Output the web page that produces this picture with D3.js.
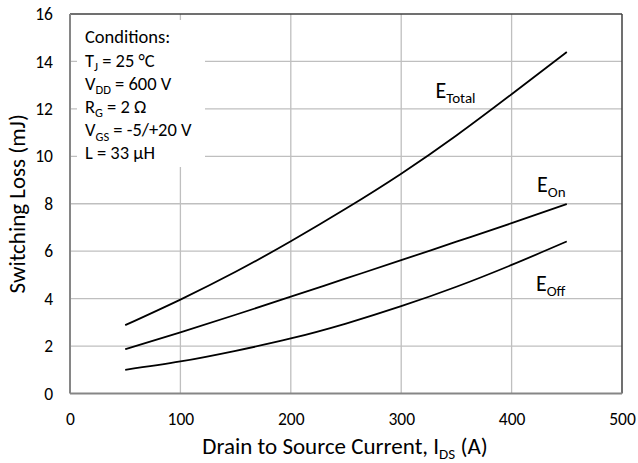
<!DOCTYPE html>
<html>
<head>
<meta charset="utf-8">
<script src="https://cdn.jsdelivr.net/npm/d3@7"></script>
<style>
  body { margin: 0; background: #fff; }
  svg { font-family: Carlito, Calibri, Lato, sans-serif; }
</style>
</head>
<body>
<svg id="chart" width="638" height="463"></svg>
<script>
// Data (drain current in A, loss in mJ)
const current = [50, 100, 150, 200, 250, 300, 350, 400, 450];
const eTotal = [2.88, 3.96, 5.13, 6.42, 7.8, 9.27, 10.88, 12.62, 14.4];
const eOn = [1.87, 2.58, 3.32, 4.08, 4.85, 5.62, 6.4, 7.18, 7.99];
const eOff = [1.0, 1.35, 1.8, 2.32, 2.95, 3.68, 4.5, 5.42, 6.41];
const xTicks = [0, 100, 200, 300, 400, 500];
const yTicks = [0, 2, 4, 6, 8, 10, 12, 14, 16];

// label anchor in data units (left edge of "E", baseline)
const series = [
    { name: "Total", values: eTotal, lx: 331, ly: 12.45 },
    { name: "On", values: eOn, lx: 423, ly: 8.5 },
    { name: "Off", values: eOff, lx: 422, ly: 4.33 }
];

const margin = { top: 14, right: 16, bottom: 69.5, left: 70 };
const width = 638, height = 463;
const innerWidth = width - margin.left - margin.right;
const innerHeight = height - margin.top - margin.bottom;

const svg = d3.select("#chart");
const g = svg.append("g").attr("transform", `translate(${margin.left},${margin.top})`);

const x = d3.scaleLinear().domain([0, 500]).range([0, innerWidth]);
const y = d3.scaleLinear().domain([0, 16]).range([innerHeight, 0]);

// Grid
g.append("g").selectAll("line").data(xTicks.slice(1, -1)).enter().append("line")
    .attr("x1", d => x(d)).attr("x2", d => x(d)).attr("y1", 0).attr("y2", innerHeight)
    .attr("stroke", "#bfbfbf").attr("stroke-width", 1.3);
g.append("g").selectAll("line").data(yTicks.slice(1, -1)).enter().append("line")
    .attr("y1", d => y(d)).attr("y2", d => y(d)).attr("x1", 0).attr("x2", innerWidth)
    .attr("stroke", "#bfbfbf").attr("stroke-width", 1.3);

// Conditions box (covers grid)
g.append("rect").attr("x", 7).attr("y", 6).attr("width", 128).attr("height", 147).attr("fill", "#fff");

// Frame: top/right dark, left/bottom gray axes
g.append("line").attr("x1", 0).attr("x2", innerWidth).attr("y1", 0).attr("y2", 0)
    .attr("stroke", "#404040").attr("stroke-width", 1.5);
g.append("line").attr("x1", innerWidth).attr("x2", innerWidth).attr("y1", 0).attr("y2", innerHeight)
    .attr("stroke", "#404040").attr("stroke-width", 1.5);
g.append("line").attr("x1", 0).attr("x2", 0).attr("y1", 0).attr("y2", innerHeight)
    .attr("stroke", "#868686").attr("stroke-width", 2);
g.append("line").attr("x1", 0).attr("x2", innerWidth).attr("y1", innerHeight).attr("y2", innerHeight)
    .attr("stroke", "#868686").attr("stroke-width", 2);

// Axes tick labels
const xAxis = g.append("g").attr("transform", `translate(0,${innerHeight})`)
    .call(d3.axisBottom(x).tickValues(xTicks).tickSize(0).tickPadding(19));
const yAxis = g.append("g")
    .call(d3.axisLeft(y).tickValues(yTicks).tickSize(0).tickPadding(17));
[xAxis, yAxis].forEach(a => {
    a.select(".domain").remove();
    a.selectAll("text").attr("font-size", 17.5).attr("fill", "#000")
        .attr("font-family", "Carlito, Calibri, Lato, sans-serif");
});

// Curves
const line = d3.line()
    .x((d, i) => x(current[i]))
    .y(d => y(d))
    .curve(d3.curveNatural);

series.forEach(s => {
    g.append("path").attr("d", line(s.values))
        .attr("fill", "none").attr("stroke", "#000").attr("stroke-width", 1.8);
});

// Curve labels
series.forEach(s => {
    const t = g.append("text").attr("font-size", 22)
        .attr("x", x(s.lx)).attr("y", y(s.ly));
    t.append("tspan").text("E");
    t.append("tspan").attr("font-size", 15).attr("dy", 5).text(s.name);
});

// Conditions text
const conds = [
    { main: "Conditions:" },
    { main: "T", sub: "J", rest: " = 25 °C" },
    { main: "V", sub: "DD", rest: " = 600 V" },
    { main: "R", sub: "G", rest: " = 2 Ω" },
    { main: "V", sub: "GS", rest: " = -5/+20 V" },
    { main: "L = 33 μH" }
];
conds.forEach((c, i) => {
    const t = g.append("text").attr("x", 15).attr("y", 29.3 + i * 23.2).attr("font-size", 18.5);
    t.append("tspan").text(c.main);
    if (c.sub) {
        t.append("tspan").attr("font-size", 12.5).attr("dy", 4.5).text(c.sub);
        t.append("tspan").attr("dy", -4.5).text(c.rest);
    }
});

// Axis titles
const xt = svg.append("text").attr("x", margin.left + innerWidth / 2 - 1).attr("y", 454)
    .attr("text-anchor", "middle").attr("font-size", 23);
xt.append("tspan").text("Drain to Source Current, I");
xt.append("tspan").attr("font-size", 15).attr("dy", 5).text("DS");
xt.append("tspan").attr("dy", -5).text(" (A)");

svg.append("text").attr("transform", `translate(25,${margin.top + innerHeight / 2}) rotate(-90)`)
    .attr("text-anchor", "middle").attr("font-size", 23).text("Switching Loss (mJ)");
</script>
</body>
</html>
